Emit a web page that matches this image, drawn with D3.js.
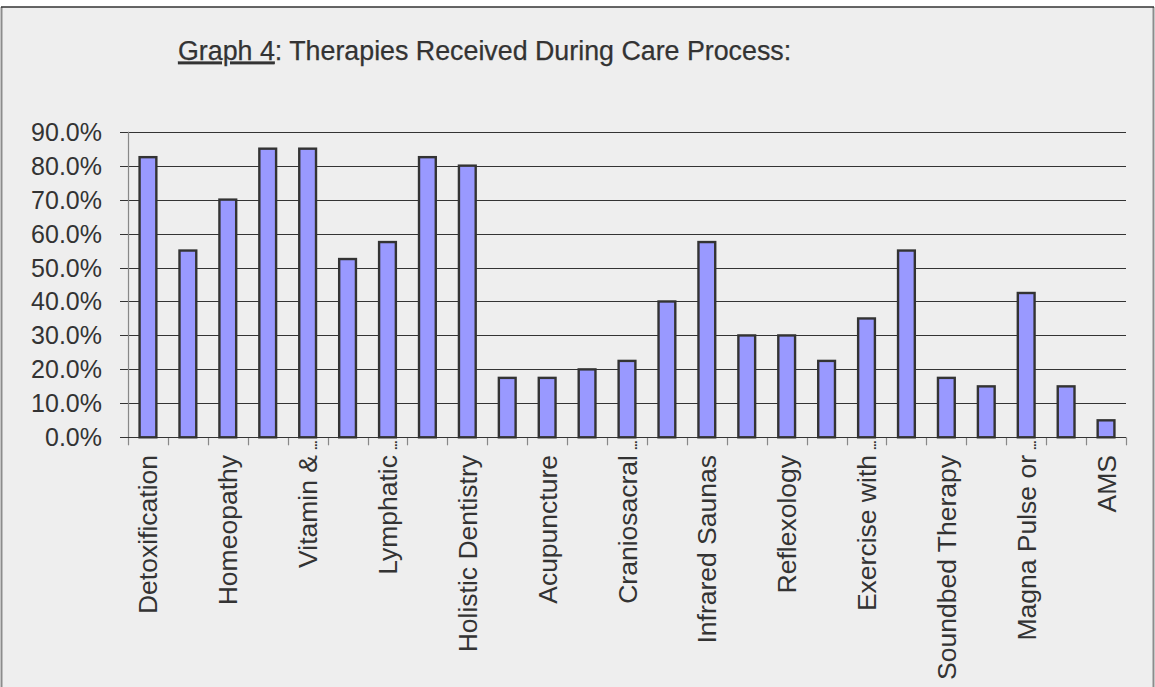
<!DOCTYPE html>
<html>
<head>
<meta charset="utf-8">
<script src="https://cdn.jsdelivr.net/npm/d3@7"></script>
<style>
html,body{margin:0;padding:0;background:#ffffff;}
svg{display:block;}
text{font-family:"Liberation Sans",Arial,sans-serif;fill:#333333;}
</style>
</head>
<body>
<script>
// ---- data ----
// labels shown on the axis (every other category is unlabeled in the source picture)
const categories = [
  "Detoxification","","Homeopathy","","Vitamin &…","","Lymphatic…","","Holistic Dentistry","",
  "Acupuncture","","Craniosacral…","","Infrared Saunas","","Reflexology","","Exercise with…","",
  "Soundbed Therapy","","Magna Pulse or…","","AMS"
];
const values = [
  82.5, 55, 70, 85, 85, 52.5, 57.5, 82.5, 80, 17.5,
  17.5, 20, 22.5, 40, 57.5, 30, 30, 22.5, 35, 55,
  17.5, 15, 42.5, 15, 5
];
const yTicks = [0,10,20,30,40,50,60,70,80,90];
const titleUnderlined = "Graph 4";
const titleRest = ": Therapies Received During Care Process:";

// ---- layout ----
const W = 1155, H = 687;
const pLeft = 128, pRight = 1126, pTop = 131.7, pBottom = 437.3;

const svg = d3.select("body").append("svg").attr("width", W).attr("height", H);

// background frame
svg.append("rect").attr("x",1).attr("y",7).attr("width",1153).attr("height",H-7).attr("fill","#eeeeee");
svg.append("line").attr("x1",1.5).attr("x2",1.5).attr("y1",7).attr("y2",H).attr("stroke","#8c8c8c").attr("stroke-width",2);
svg.append("line").attr("x1",1153.5).attr("x2",1153.5).attr("y1",7).attr("y2",H).attr("stroke","#8c8c8c").attr("stroke-width",2);
svg.append("line").attr("x1",1).attr("x2",1154).attr("y1",7).attr("y2",7).attr("stroke","#333333").attr("stroke-width",1.5);

// title
const title = svg.append("text").attr("x",178).attr("y",59.5).attr("font-size",26.8).attr("stroke","#333333").attr("stroke-width",0.25);
title.append("tspan").attr("text-decoration","underline").text(titleUnderlined);
title.append("tspan").text(titleRest);

const idx = values.map((d,i)=>i);
const x = d3.scaleBand().domain(idx).range([pLeft,pRight]).paddingInner(0.58).paddingOuter(0.29);
const y = d3.scaleLinear().domain([0,90]).range([pBottom,pTop]);

// gridlines
svg.selectAll("line.grid").data(yTicks).join("line")
  .attr("class","grid")
  .attr("x1",pLeft-8).attr("x2",pRight)
  .attr("y1",d=>Math.round(y(d))+0.5).attr("y2",d=>Math.round(y(d))+0.5)
  .attr("stroke","#333333").attr("stroke-width",1.2);

// y axis line
svg.append("line").attr("x1",pLeft+0.5).attr("x2",pLeft+0.5).attr("y1",pTop).attr("y2",pBottom)
  .attr("stroke","#888888").attr("stroke-width",1.2);

// y tick labels
svg.selectAll("text.ytick").data(yTicks).join("text")
  .attr("class","ytick")
  .attr("x",102).attr("y",d=>y(d)).attr("dy","0.36em")
  .attr("text-anchor","end").attr("font-size",25)
  .text(d=>d3.format(".1f")(d)+"%");

// x ticks at band boundaries
const step = x.step();
const bounds = d3.range(values.length+1).map(i=>pLeft + i*step);
svg.selectAll("line.xtick").data(bounds).join("line")
  .attr("class","xtick")
  .attr("x1",d=>Math.round(d)+0.5).attr("x2",d=>Math.round(d)+0.5)
  .attr("y1",pBottom).attr("y2",pBottom+8)
  .attr("stroke","#888888").attr("stroke-width",1.2);

// bars
svg.selectAll("rect.bar").data(values).join("rect")
  .attr("class","bar")
  .attr("x",(d,i)=>x(i)).attr("width",x.bandwidth())
  .attr("y",d=>y(d)).attr("height",d=>pBottom-y(d))
  .attr("fill","#9999ff").attr("stroke","#333333").attr("stroke-width",2.4);

// x axis line
svg.append("line").attr("x1",pLeft).attr("x2",pRight).attr("y1",Math.round(pBottom)+0.5).attr("y2",Math.round(pBottom)+0.5)
  .attr("stroke","#333333").attr("stroke-width",1.2);

// category labels (rotated); truncated ones draw a compact ellipsis overflowing toward the axis
const labData = categories.map((c,i)=>({c,i})).filter(d=>d.c!=="");
const labG = svg.selectAll("g.xlab").data(labData).join("g")
  .attr("class","xlab")
  .attr("transform",d=>`translate(${x(d.i)+x.bandwidth()/2},455) rotate(-90)`);
labG.append("text")
  .attr("text-anchor","end").attr("y",9.5).attr("font-size",26.5)
  .text(d=>d.c.endsWith("…") ? d.c.slice(0,-1) : d.c);
labG.filter(d=>d.c.endsWith("…")).append("text")
  .attr("text-anchor","start").attr("x",5).attr("y",9.5)
  .attr("font-size",13).attr("letter-spacing",-0.6).attr("font-weight","bold")
  .text("...");
</script>
</body>
</html>
